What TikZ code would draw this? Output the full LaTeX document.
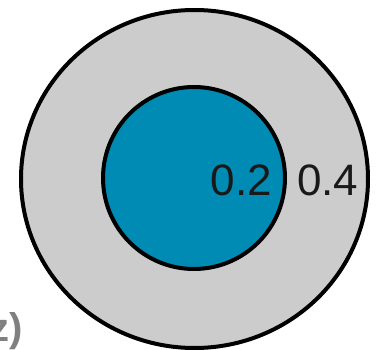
\documentclass[tikz,border=0pt]{standalone}
\usepackage{fontspec}
\setmainfont{Liberation Sans}
\usetikzlibrary{shapes.geometric}
\definecolor{ringgray}{RGB}{204,204,204}
\definecolor{coreblue}{RGB}{0,139,180}
\definecolor{labelgray}{RGB}{128,128,128}
\definecolor{numtext}{RGB}{25,25,25}
\begin{document}
\begin{tikzpicture}[x=1pt,y=-1pt,
  ring/.style={draw=black,line width=4pt},
  numlabel/.style={inner sep=0pt,text=numtext,font=\fontsize{44}{44}\selectfont}]
\useasboundingbox (0,0) rectangle (383,350);
\node[ring,fill=ringgray,ellipse,minimum width=347pt,minimum height=338pt,inner sep=0pt] (outer) at (194.5,179) {};
\node[ring,fill=coreblue,circle,minimum size=182pt,inner sep=0pt] (inner) at (194,178) {};
\node[numlabel,anchor=base east] (a) at (272,195) {0.2};
\node[numlabel,anchor=base west] (b) at (297,195) {0.4};
\node[inner sep=0pt,anchor=base east,text=labelgray,font=\fontsize{40}{40}\selectfont\bfseries] (c) at (23,341) {(z)};
\end{tikzpicture}
\end{document}
